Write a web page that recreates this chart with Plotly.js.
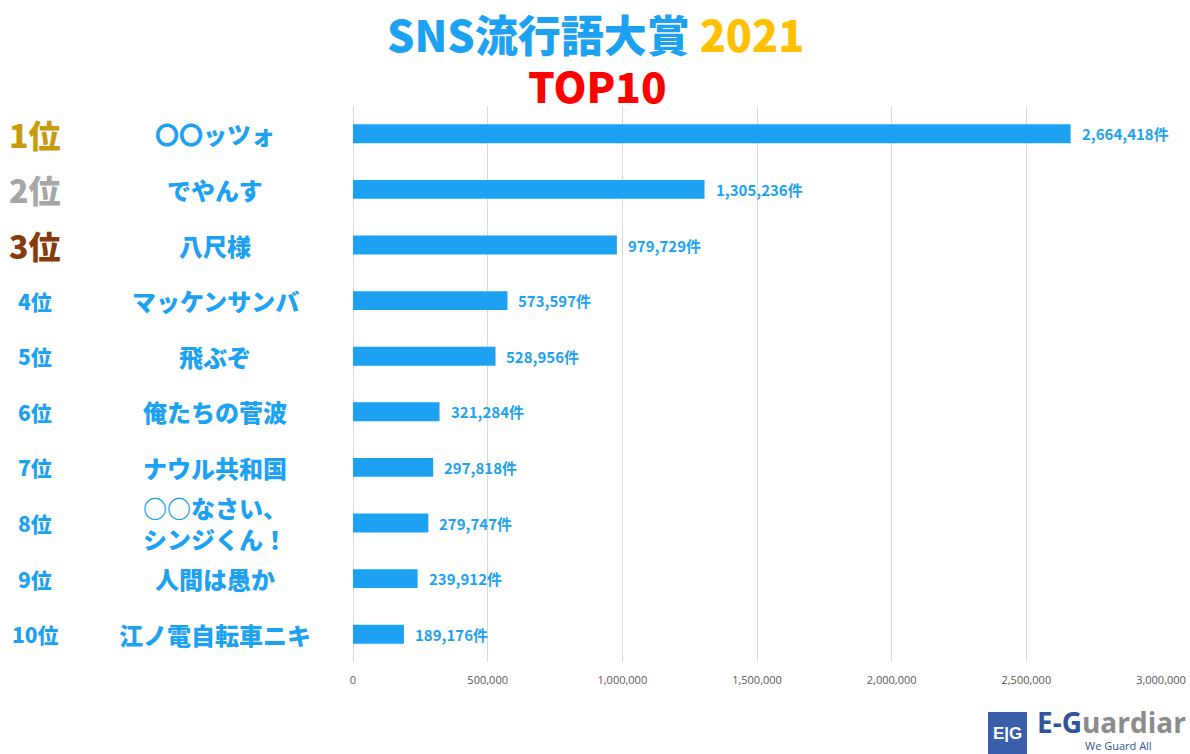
<!DOCTYPE html>
<html>
<head>
<meta charset="utf-8">
<script src="https://cdn.plot.ly/plotly-3.0.1.min.js"></script>
<style>
html,body{margin:0;padding:0;background:#fff;}
#chart{width:1190px;height:754px;}
</style>
</head>
<body>
<div id="chart"></div>
<script>
// ---- data ----
const ranks = ["1位","2位","3位","4位","5位","6位","7位","8位","9位","10位"];
const words = ["〇〇ッツォ","でやんす","八尺様","マッケンサンバ","飛ぶぞ","俺たちの菅波","ナウル共和国","○○なさい、<br>シンジくん！","人間は愚か","江ノ電自転車ニキ"];
const counts = [2664418,1305236,979729,573597,528956,321284,297818,279747,239912,189176];
const xTicks = [0,500000,1000000,1500000,2000000,2500000,3000000];
const xTickLabels = ["0","500,000","1,000,000","1,500,000","2,000,000","2,500,000","3,000,000"];
const rankColors = ["#C69C0D","#A6A6A6","#843C0C","#1DA1F2","#1DA1F2","#1DA1F2","#1DA1F2","#1DA1F2","#1DA1F2","#1DA1F2"];
const rankSizes = [32,32,32,21,21,21,21,21,21,21];

const BLUE = "#1DA1F2";
const JP = "'Noto Sans CJK JP', 'Noto Sans', sans-serif";

const trace = {
  type: "bar",
  orientation: "h",
  y: ranks,
  x: counts,
  width: 0.34,
  marker: {color: BLUE},
  hoverinfo: "none"
};

const plotW = 1190 - 353 - 29, plotH = 754 - 106 - 92;
function px(x){ return (x - 353) / plotW; }
function py(y){ return (754 - 92 - y) / plotH; }

const annotations = [];
ranks.forEach((r, i) => {
  annotations.push({
    xref: "paper", yref: "y", x: px(35), y: r, text: r, showarrow: false,
    xanchor: "center", yanchor: "middle",
    font: {family: JP, size: rankSizes[i], color: rankColors[i], weight: 900}
  });
  annotations.push({
    xref: "paper", yref: "y", x: px(215), y: r, text: words[i], showarrow: false,
    xanchor: "center", yanchor: "middle",
    font: {family: JP, size: 24, color: BLUE, weight: 900}
  });
  annotations.push({
    xref: "x", yref: "y", x: counts[i], y: r, xshift: 9,
    text: counts[i].toLocaleString("en-US") + "件", showarrow: false,
    xanchor: "left", yanchor: "middle",
    font: {family: JP, size: 15, color: BLUE, weight: 700}
  });
});

// title
annotations.push({
  xref: "paper", yref: "paper", x: px(595), y: py(33),
  text: "SNS流行語大賞 <span style='color:#FFC000'>2021</span>",
  showarrow: false, xanchor: "center", yanchor: "middle",
  font: {family: JP, size: 43, color: BLUE, weight: 900}
});
annotations.push({
  xref: "paper", yref: "paper", x: px(597), y: py(84),
  text: "TOP10",
  showarrow: false, xanchor: "center", yanchor: "middle",
  font: {family: JP, size: 42, color: "#FF0000", weight: 900}
});

// logo
annotations.push({xref:"paper",yref:"paper",x:px(1007.5),y:py(733),text:"E|G",showarrow:false,
  xanchor:"center",yanchor:"middle",font:{family:"'Liberation Sans', sans-serif",size:17,color:"#ffffff",weight:700}});
annotations.push({xref:"paper",yref:"paper",x:px(1035),y:py(722),text:"<span style='color:#2F5597'>E-G</span>uardiar",showarrow:false,
  xanchor:"left",yanchor:"middle",font:{family:"'Open Sans', sans-serif",size:28,color:"#8C8C8C",weight:700}});
annotations.push({xref:"paper",yref:"paper",x:px(1118),y:py(745),text:"We Guard All",showarrow:false,
  xanchor:"center",yanchor:"middle",font:{family:"'Open Sans', sans-serif",size:11,color:"#2F5597"}});

const layout = {
  width: 1190, height: 754,
  paper_bgcolor: "#ffffff", plot_bgcolor: "#ffffff",
  margin: {l: 353, r: 29, t: 106, b: 92},
  showlegend: false,
  xaxis: {
    range: [0, 3000000],
    tickvals: xTicks, ticktext: xTickLabels,
    showgrid: true, gridcolor: "#D9D9D9", gridwidth: 1,
    zeroline: true, zerolinecolor: "#D9D9D9", zerolinewidth: 1,
    showline: false, ticks: "", ticklabelstandoff: 10,
    tickfont: {family: "'Open Sans', sans-serif", size: 11, color: "#595959"},
    fixedrange: true
  },
  yaxis: {
    autorange: "reversed",
    showticklabels: false, showgrid: false, zeroline: false, showline: false, ticks: "",
    fixedrange: true
  },
  annotations: annotations,
  shapes: [
    {type: "rect", xref: "paper", yref: "paper", x0: px(988), x1: px(1027), y0: py(756), y1: py(712),
     fillcolor: "#3B5EAB", line: {width: 0}}
  ]
};

Plotly.newPlot("chart", [trace], layout, {displayModeBar: false, staticPlot: true});
</script>
</body>
</html>
